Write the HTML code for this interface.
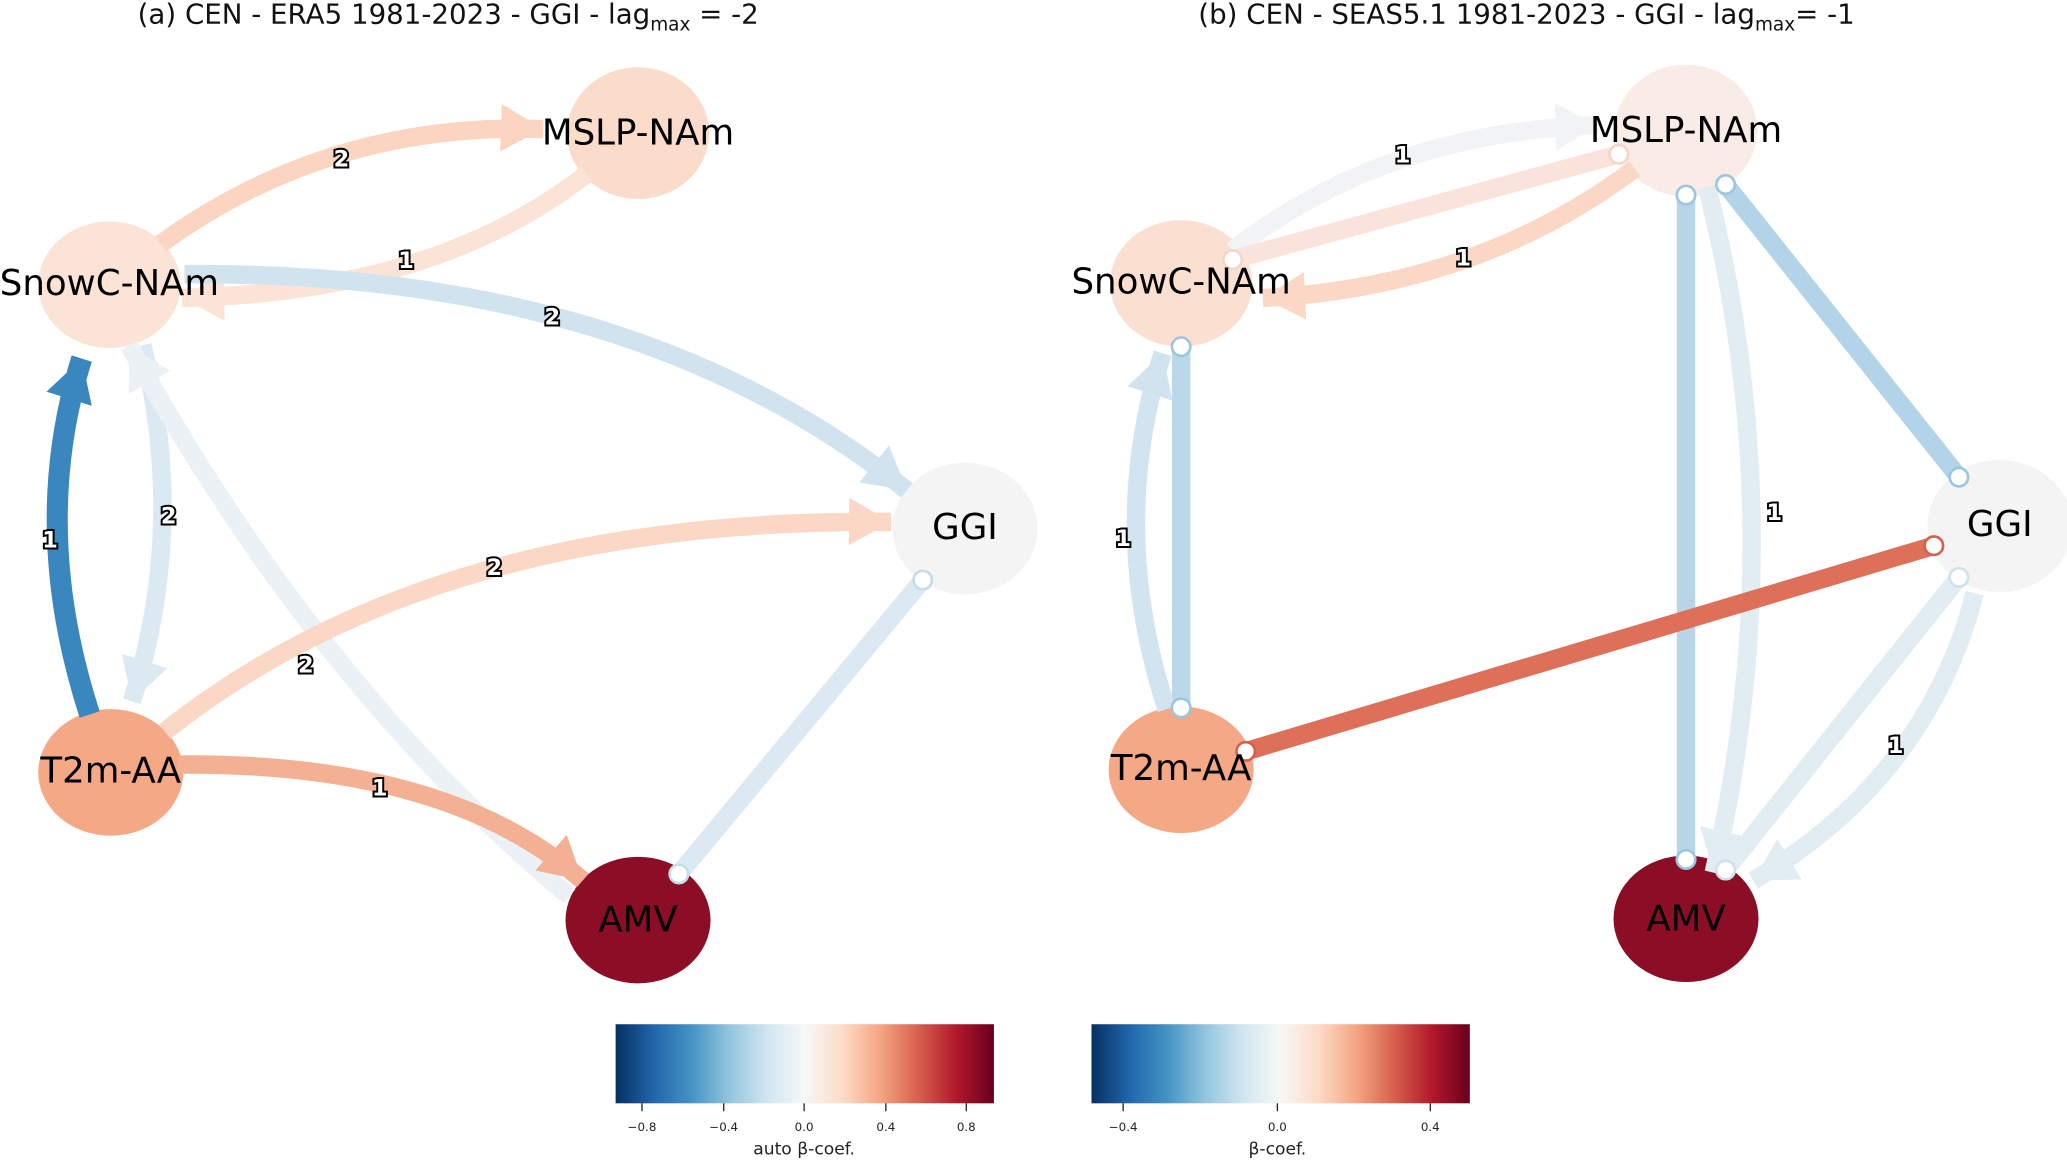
<!DOCTYPE html>
<html><head><meta charset="utf-8"><style>
html,body{margin:0;padding:0;background:#fff;}
svg{display:block;}
text{font-family:"DejaVu Sans","Liberation Sans",sans-serif;}
.t{font-size:21px;fill:#111;}
.n{font-size:27px;fill:#000;text-anchor:middle;dominant-baseline:central;}
.l{font-size:17px;font-weight:bold;fill:#fff;stroke:#000;stroke-width:3px;paint-order:stroke;text-anchor:middle;dominant-baseline:central;}
.k{font-size:9px;fill:#222;text-anchor:middle;}
.c{font-size:13px;fill:#222;text-anchor:middle;}
</style></head><body>
<svg width="2067" height="1160" viewBox="0 0 1568 880" preserveAspectRatio="none" xmlns="http://www.w3.org/2000/svg">
<defs>
<linearGradient id="rb" x1="0" x2="1" y1="0" y2="0">
<stop offset="0" stop-color="#053061"/><stop offset="0.1" stop-color="#2166ac"/><stop offset="0.2" stop-color="#4393c3"/><stop offset="0.3" stop-color="#92c5de"/><stop offset="0.4" stop-color="#d1e5f0"/><stop offset="0.5" stop-color="#f7f7f7"/><stop offset="0.6" stop-color="#fddbc7"/><stop offset="0.7" stop-color="#f4a582"/><stop offset="0.8" stop-color="#d6604d"/><stop offset="0.9" stop-color="#b2182b"/><stop offset="1" stop-color="#67001f"/>
</linearGradient>
<marker id="m1" markerUnits="userSpaceOnUse" markerWidth="34" markerHeight="36" refX="32" refY="18" orient="auto"><path d="M0,0 L32,18 L0,36 z" fill="#fbd5c0"/></marker>
<marker id="m2" markerUnits="userSpaceOnUse" markerWidth="34" markerHeight="36" refX="32" refY="18" orient="auto"><path d="M0,0 L32,18 L0,36 z" fill="#fbe3d6"/></marker>
<marker id="m3" markerUnits="userSpaceOnUse" markerWidth="34" markerHeight="36" refX="32" refY="18" orient="auto"><path d="M0,0 L32,18 L0,36 z" fill="#d0e3ef"/></marker>
<marker id="m4" markerUnits="userSpaceOnUse" markerWidth="34" markerHeight="36" refX="32" refY="18" orient="auto"><path d="M0,0 L32,18 L0,36 z" fill="#3a87bf"/></marker>
<marker id="m5" markerUnits="userSpaceOnUse" markerWidth="34" markerHeight="36" refX="32" refY="18" orient="auto"><path d="M0,0 L32,18 L0,36 z" fill="#dbe9f2"/></marker>
<marker id="m6" markerUnits="userSpaceOnUse" markerWidth="34" markerHeight="36" refX="32" refY="18" orient="auto"><path d="M0,0 L32,18 L0,36 z" fill="#ecf1f5"/></marker>
<marker id="m7" markerUnits="userSpaceOnUse" markerWidth="34" markerHeight="36" refX="32" refY="18" orient="auto"><path d="M0,0 L32,18 L0,36 z" fill="#f4b093"/></marker>
<marker id="m8" markerUnits="userSpaceOnUse" markerWidth="34" markerHeight="36" refX="32" refY="18" orient="auto"><path d="M0,0 L32,18 L0,36 z" fill="#f2f3f4"/></marker>
<marker id="m9" markerUnits="userSpaceOnUse" markerWidth="34" markerHeight="36" refX="32" refY="18" orient="auto"><path d="M0,0 L32,18 L0,36 z" fill="#fbd8c6"/></marker>
<marker id="m10" markerUnits="userSpaceOnUse" markerWidth="34" markerHeight="36" refX="32" refY="18" orient="auto"><path d="M0,0 L32,18 L0,36 z" fill="#e2ecf3"/></marker>
</defs>

<text class="t" x="340" y="18" text-anchor="middle">(a) CEN - ERA5 1981-2023 - GGI - lag<tspan font-size="14" dy="5">max</tspan><tspan dy="-5"> = -2</tspan></text>
<text class="t" x="1158" y="18" text-anchor="middle">(b) CEN - SEAS5.1 1981-2023 - GGI - lag<tspan font-size="14" dy="5">max</tspan><tspan dy="-5">= -1</tspan></text>

<ellipse cx="83" cy="216" rx="54" ry="48" fill="#fbe3d6"/>
<ellipse cx="484" cy="101" rx="54" ry="50" fill="#fbdccb"/>
<ellipse cx="732" cy="401" rx="55" ry="50" fill="#f4f4f4"/>
<ellipse cx="84" cy="586" rx="55" ry="48" fill="#f4a886"/>
<ellipse cx="484" cy="698" rx="55" ry="48" fill="#8b0e26"/>

<g fill="none" stroke-width="14">
<path d="M122,185 Q250,92 412,98" stroke="#fbd5c0" marker-end="url(#m1)"/>
<path d="M445,132 Q330,222 138,226" stroke="#fbe3d6" marker-end="url(#m2)"/>
<path d="M140,208 Q480,205 688,372" stroke="#d0e3ef" marker-end="url(#m3)"/>
<path d="M68,542 Q22,400 62,272" stroke="#3a87bf" stroke-width="16" marker-end="url(#m4)"/>
<path d="M108,262 Q142,400 100,532" stroke="#dbe9f2" marker-end="url(#m5)"/>
<path d="M432,680 Q240,520 98,262" stroke="#ecf1f5" marker-end="url(#m6)"/>
<path d="M125,555 Q330,392 676,396" stroke="#fbd8c6" marker-end="url(#m9)"/>
<path d="M135,580 Q340,578 442,668" stroke="#f4b093" marker-end="url(#m7)"/>
<line x1="700" y1="440" x2="515" y2="663" stroke="#dde9f2"/>
</g>
<circle cx="700" cy="440" r="7" fill="#fff" stroke="#c7dceb" stroke-width="2"/>
<circle cx="515" cy="663" r="7" fill="#fff" stroke="#c7dceb" stroke-width="2"/>

<text class="n" x="83" y="215">SnowC-NAm</text>
<text class="n" x="484" y="101">MSLP-NAm</text>
<text class="n" x="732" y="400">GGI</text>
<text class="n" x="84" y="585">T2m-AA</text>
<text class="n" x="484" y="698">AMV</text>
<text class="l" x="259" y="121">2</text>
<text class="l" x="308" y="198">1</text>
<text class="l" x="419" y="241">2</text>
<text class="l" x="38" y="410">1</text>
<text class="l" x="128" y="392">2</text>
<text class="l" x="232" y="505">2</text>
<text class="l" x="375" y="431">2</text>
<text class="l" x="288" y="598">1</text>

<ellipse cx="896" cy="215" rx="54" ry="48" fill="#fbe0d2"/>
<ellipse cx="1279" cy="99" rx="54" ry="50" fill="#f9ebe5"/>
<ellipse cx="1517" cy="399" rx="55" ry="50" fill="#f4f4f4"/>
<ellipse cx="896" cy="584" rx="55" ry="48" fill="#f4a886"/>
<ellipse cx="1279" cy="697" rx="55" ry="48" fill="#8b0e26"/>

<g fill="none" stroke-width="14">
<path d="M935,190 Q1050,100 1212,95" stroke="#f2f3f4" marker-end="url(#m8)"/>
<line x1="1228" y1="117" x2="935" y2="197" stroke="#f9e3da"/>
<path d="M1240,128 Q1120,218 958,226" stroke="#fbd8c6" marker-end="url(#m9)"/>
<line x1="896" y1="263" x2="896" y2="537" stroke="#bad8e9"/>
<path d="M885,538 Q840,400 882,268" stroke="#d1e4f0" marker-end="url(#m3)"/>
<line x1="1279" y1="148" x2="1279" y2="652" stroke="#b8d6e8"/>
<path d="M1295,142 Q1360,400 1300,662" stroke="#e2ecf3" marker-end="url(#m10)"/>
<line x1="1309" y1="140" x2="1486" y2="362" stroke="#b3d3e8"/>
<line x1="945" y1="570" x2="1467" y2="414" stroke="#de6f58"/>
<line x1="1486" y1="438" x2="1309" y2="660" stroke="#e2ecf3"/>
<path d="M1498,450 Q1462,590 1330,668" stroke="#e2ecf3" marker-end="url(#m10)"/>
</g>
<g fill="#fff" stroke-width="2">
<circle cx="1228" cy="117" r="7" stroke="#f3d6ca"/>
<circle cx="935" cy="197" r="7" stroke="#f3d6ca"/>
<circle cx="896" cy="263" r="7" stroke="#9cc6df"/>
<circle cx="896" cy="537" r="7" stroke="#9cc6df"/>
<circle cx="1279" cy="148" r="7" stroke="#9cc6df"/>
<circle cx="1279" cy="652" r="7" stroke="#9cc6df"/>
<circle cx="1309" cy="140" r="7" stroke="#9cc6df"/>
<circle cx="1486" cy="362" r="7" stroke="#9cc6df"/>
<circle cx="945" cy="570" r="7" stroke="#d6604d"/>
<circle cx="1467" cy="414" r="7" stroke="#d6604d"/>
<circle cx="1486" cy="438" r="7" stroke="#d0e1ec"/>
<circle cx="1309" cy="660" r="7" stroke="#d0e1ec"/>
</g>

<text class="n" x="896" y="214">SnowC-NAm</text>
<text class="n" x="1279" y="99">MSLP-NAm</text>
<text class="n" x="1517" y="398">GGI</text>
<text class="n" x="896" y="583">T2m-AA</text>
<text class="n" x="1279" y="697">AMV</text>
<text class="l" x="1064" y="118">1</text>
<text class="l" x="1110" y="196">1</text>
<text class="l" x="852" y="409">1</text>
<text class="l" x="1346" y="389">1</text>
<text class="l" x="1438" y="566">1</text>

<rect x="467" y="777" width="287" height="60" fill="url(#rb)"/>
<g stroke="#222" stroke-width="1">
<line x1="487" y1="837" x2="487" y2="843"/><line x1="549" y1="837" x2="549" y2="843"/><line x1="610" y1="837" x2="610" y2="843"/><line x1="672" y1="837" x2="672" y2="843"/><line x1="733" y1="837" x2="733" y2="843"/>
</g>
<text class="k" x="487" y="858">−0.8</text><text class="k" x="549" y="858">−0.4</text><text class="k" x="610" y="858">0.0</text><text class="k" x="672" y="858">0.4</text><text class="k" x="733" y="858">0.8</text>
<text class="c" x="610" y="876">auto β-coef.</text>

<rect x="828" y="777" width="287" height="60" fill="url(#rb)"/>
<g stroke="#222" stroke-width="1">
<line x1="852" y1="837" x2="852" y2="843"/><line x1="969" y1="837" x2="969" y2="843"/><line x1="1085" y1="837" x2="1085" y2="843"/>
</g>
<text class="k" x="852" y="858">−0.4</text><text class="k" x="969" y="858">0.0</text><text class="k" x="1085" y="858">0.4</text>
<text class="c" x="969" y="876">β-coef.</text>
</svg>
</body></html>
